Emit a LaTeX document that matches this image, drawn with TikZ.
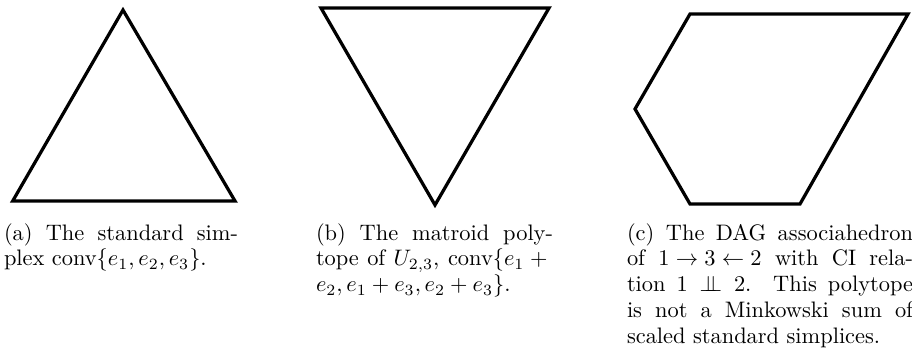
\documentclass[tikz,border=0pt]{standalone}
\usepackage{amsmath}
\tikzset{
  poly/.style={draw=black, line width=1.45pt, line join=miter},
  captext/.style={inner sep=0pt, outer sep=0pt, anchor=base west, font=\fontsize{10}{11.6}\selectfont}
}
\newcommand{\myindep}{\mathrel{\perp\mkern-10mu\perp}}
\begin{document}
\begin{tikzpicture}[x=0.4464pt, y=-0.4464pt]
\useasboundingbox (0,0) rectangle (912,347);
% (a) standard simplex
\coordinate (a1) at (123,10);
\coordinate (a2) at (12.7,201);
\coordinate (a3) at (235,201);
\draw[poly] (a1) -- (a2) -- (a3) -- cycle;
% (b) matroid polytope
\coordinate (b1) at (321,8);
\coordinate (b2) at (549,8);
\coordinate (b3) at (435,205);
\draw[poly] (b1) -- (b2) -- (b3) -- cycle;
% (c) DAG associahedron
\coordinate (c1) at (690,14);
\coordinate (c2) at (908,14);
\coordinate (c3) at (800,204);
\coordinate (c4) at (690,204);
\coordinate (c5) at (635,109);
\draw[poly] (c1) -- (c2) -- (c3) -- (c4) -- (c5) -- cycle;
% captions
\node[captext] (capa) at (4,240) {\vtop{%
  \hbox to 104.5pt{(a) The standard sim-}%
  \hbox{plex conv$\{e_1,e_2,e_3\}$.}}};
\node[captext] (capb) at (316,240) {\vtop{%
  \hbox to 105.8pt{(b) The matroid poly-}%
  \hbox to 105.8pt{tope of $U_{2,3}$, conv$\{e_1 +{}$}%
  \hbox{$e_2,e_1+e_3,e_2+e_3\}$.}}};
\node[captext] (capc) at (627,240) {\vtop{%
  \hbox to 127.7pt{(c) The DAG associahedron}%
  \hbox to 127.7pt{of \hbox{$1 \rightarrow 3 \leftarrow 2$} with CI rela-}%
  \hbox to 127.7pt{tion $1 \myindep 2$.\ \ This polytope}%
  \hbox to 127.7pt{is not a Minkowski sum of}%
  \hbox{scaled standard simplices.}}};
\end{tikzpicture}
\end{document}
